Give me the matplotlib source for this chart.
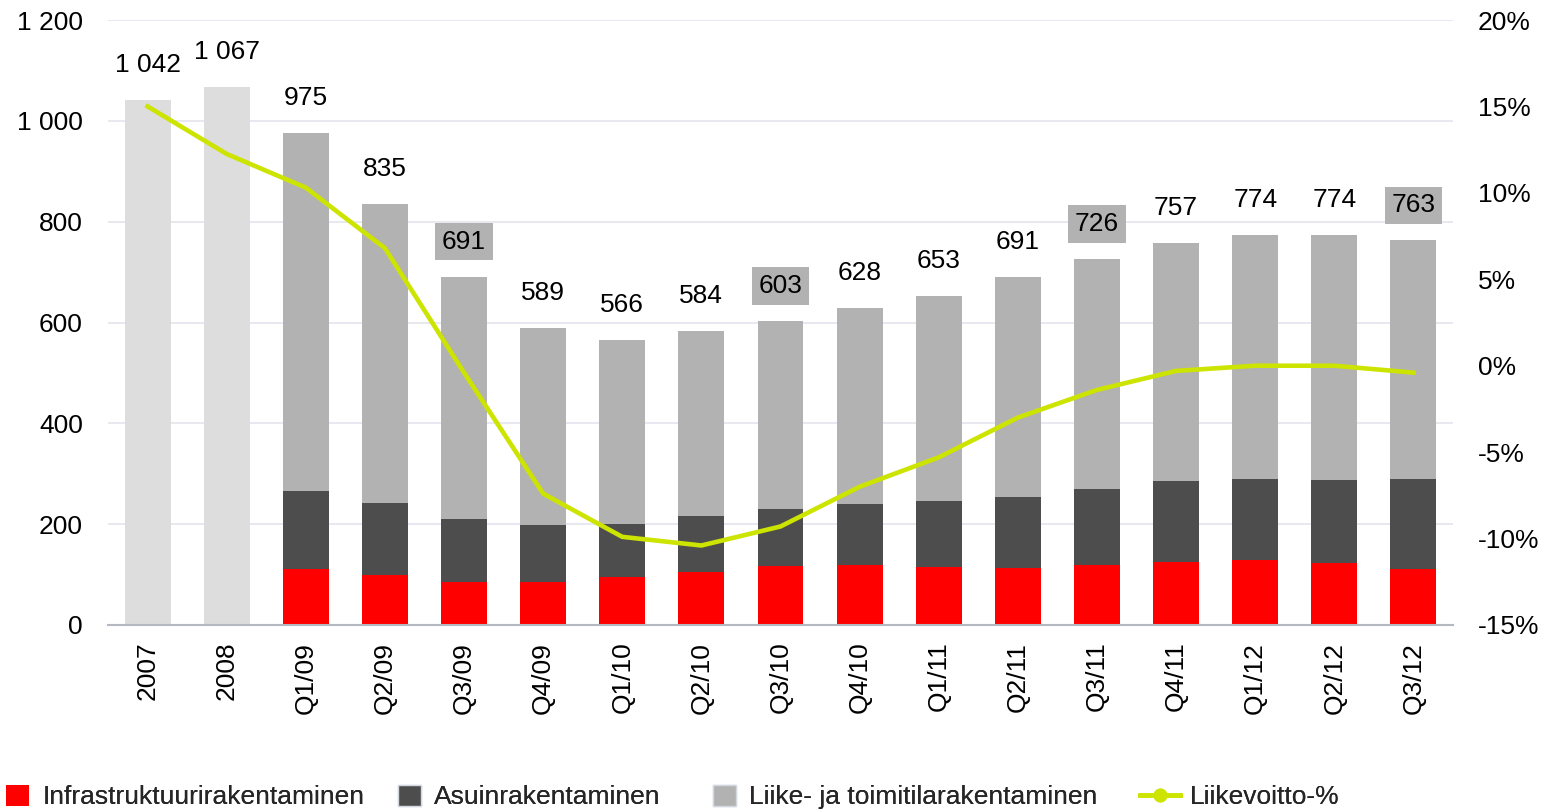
import matplotlib
matplotlib.use("Agg")
import matplotlib.pyplot as plt
import numpy as np
from matplotlib.lines import Line2D
from matplotlib.patches import Patch

plt.rcParams['font.family'] = ['Liberation Sans', 'DejaVu Sans']

categories = ["2007", "2008", "Q1/09", "Q2/09", "Q3/09", "Q4/09", "Q1/10", "Q2/10",
              "Q3/10", "Q4/10", "Q1/11", "Q2/11", "Q3/11", "Q4/11", "Q1/12", "Q2/12", "Q3/12"]
totals = [1042, 1067, 975, 835, 691, 589, 566, 584, 603, 628, 653, 691, 726, 757, 774, 774, 763]
annual_totals = [1042, 1067]
infra = [111, 99, 86, 86, 95, 106, 117, 119, 116, 114, 119, 124, 128, 123, 112]
asuin = [155, 143, 124, 112, 106, 111, 114, 121, 130, 140, 151, 162, 162, 165, 178]
liike = [709, 593, 481, 391, 365, 367, 372, 388, 407, 437, 456, 471, 484, 486, 473]
liikevoitto = [15.0, 12.25, 10.3, 6.8, -0.4, -7.4, -9.9, -10.4, -9.3, -7.0, -5.3, -3.0, -1.4, -0.3, 0.0, 0.0, -0.4]
boxed = ["Q3/09", "Q3/10", "Q3/11", "Q3/12"]
legend_labels = ["Infrastruktuurirakentaminen", "Asuinrakentaminen",
                 "Liike- ja toimitilarakentaminen", "Liikevoitto-%"]

C_RED = "#FF0000"
C_DARK = "#4D4D4D"
C_LIGHT = "#B2B2B2"
C_ANNUAL = "#DDDDDD"
C_LINE = "#CCE400"
FS = 19
W, H = 1553, 810

fig = plt.figure(figsize=(W/100, H/100), dpi=100)
ax = fig.add_axes([108/W, 1-625/H, (1453-108)/W, 605/H])
ax2 = ax.twinx()

x = np.arange(len(categories))
w = 0.58
xa = x[:2]
xq = x[2:]
ax.bar(xa, annual_totals, w, color=C_ANNUAL, zorder=2)
infra_a = np.array(infra); asuin_a = np.array(asuin); liike_a = np.array(liike)
ax.bar(xq, infra_a, w, color=C_RED, zorder=2)
ax.bar(xq, asuin_a, w, bottom=infra_a, color=C_DARK, zorder=2)
ax.bar(xq, liike_a, w, bottom=infra_a + asuin_a, color=C_LIGHT, zorder=2)

def fmt(v):
    return f"{v:,}".replace(",", " ")

for i, (c, t) in enumerate(zip(categories, totals)):
    kw = {}
    if c in boxed:
        kw['bbox'] = dict(boxstyle="square,pad=0.25", facecolor=C_LIGHT, edgecolor="none")
    ax.annotate(fmt(t), (i, t), xytext=(0, 35), textcoords="offset pixels",
                ha="center", va="center", fontsize=FS, color="black", zorder=5, **kw)

ax.set_xlim(-0.5, len(categories) - 0.5)
ax.set_ylim(0, 1200)
ax.set_yticks(np.arange(0, 1201, 200))
ax.set_yticklabels([fmt(v) for v in range(0, 1201, 200)], fontsize=FS)
ax.set_xticks(x)
ax.set_xticklabels(categories, rotation=90, fontsize=FS)
ax.grid(axis="y", color="#E4E4EE", linewidth=1.2, zorder=0)
ax.set_axisbelow(True)
for s in ["top", "right", "left"]:
    ax.spines[s].set_visible(False)
ax.spines["bottom"].set_color("#B4B8C0")
ax.spines["bottom"].set_linewidth(1.5)
ax.tick_params(axis="both", length=0)
ax.tick_params(axis="y", pad=18)
ax.tick_params(axis="x", pad=12)

ax2.plot(x, liikevoitto, color=C_LINE, linewidth=3.3, zorder=4)
ax2.set_ylim(-15, 20)
ax2.set_yticks(np.arange(-15, 21, 5))
ax2.set_yticklabels([f"{v}%" for v in range(-15, 21, 5)], fontsize=FS)
for s in ["top", "right", "left", "bottom"]:
    ax2.spines[s].set_visible(False)
ax2.tick_params(axis="y", length=0, pad=18)

handles = [Patch(facecolor=C_RED, edgecolor="none"),
           Patch(facecolor=C_DARK, edgecolor="#D4D8E0", linewidth=1),
           Patch(facecolor=C_LIGHT, edgecolor="#D4D8E0", linewidth=1),
           Line2D([0], [0], color=C_LINE, lw=3.3, marker="o", markersize=9)]
leg_x = [6, 398, 713, 1140]
leg_hl = [0.87, 0.87, 0.87, 1.5]
leg_pad = [0.5, 0.5, 0.5, 0.38]
for h, lab, lx, hl, hp in zip(handles, legend_labels, leg_x, leg_hl, leg_pad):
    leg = fig.legend([h], [lab], loc="center left", bbox_to_anchor=(lx/W, 1-797/H),
                     frameon=False, fontsize=FS, handlelength=hl, handleheight=0.87,
                     handletextpad=hp, borderpad=0, borderaxespad=0)
    for t in leg.get_texts():
        t.set_color("#262626")
    fig.add_artist(leg)

fig.savefig("out.png", dpi=100)
